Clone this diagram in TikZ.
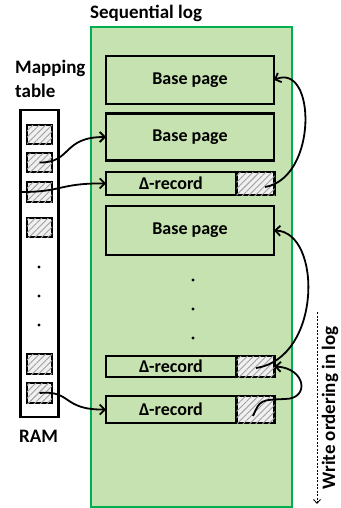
\documentclass[tikz,border=0pt]{standalone}
\usepackage{fontspec}
\setmainfont{Carlito}
\usetikzlibrary{patterns.meta,arrows.meta}
\definecolor{logfill}{RGB}{198,226,176}
\definecolor{logedge}{RGB}{0,176,80}
\definecolor{hatchgray}{RGB}{160,160,160}
\definecolor{hatchbg}{RGB}{240,240,240}
\begin{document}
\begin{tikzpicture}[x=1pt,y=-1pt,
  lbl/.style={font=\fontsize{19}{22}\selectfont\bfseries, inner sep=0pt},
  logbox/.style={draw, line width=2.5pt, inner sep=0pt, outer sep=0pt,
    font=\fontsize{18}{22}\selectfont\bfseries},
  hatchbox/.style={draw, line width=2.5pt, inner sep=0pt, outer sep=0pt, fill=hatchbg,
    postaction={pattern={Lines[angle=45,distance=4.5pt,line width=0.9pt]}, pattern color=hatchgray}},
  link/.style={line width=1.8pt, -{Straight Barb[length=5pt,width=10pt,line width=1.8pt]}},
  dotmark/.style={circle, fill=black, inner sep=0pt, minimum size=3.2pt}
]
\useasboundingbox (0,0) rectangle (340,508);

% sequential log area
\node (log) [draw=logedge, fill=logfill, line width=2pt, minimum width=201pt, minimum height=479pt, inner sep=0pt] at (191,267) {};
\node (logtitle) [lbl, anchor=west] at (90,13) {Sequential log};

% pages and delta records in the log
\node (bp1) [logbox, minimum width=168pt, minimum height=48pt] at (190,80) {Base page};
\node (bp2) [logbox, minimum width=168pt, minimum height=47pt] at (190,137) {Base page};
\node (dr1) [logbox, minimum width=130pt, minimum height=23pt] at (171,183.5) {Δ-record};
\node (h1)  [hatchbox, minimum width=38pt, minimum height=23pt] at (255.5,183.5) {};
\node (bp3) [logbox, minimum width=168pt, minimum height=49pt] at (190,230.5) {Base page};
\node (dr2) [logbox, minimum width=130pt, minimum height=21pt] at (171,366.5) {Δ-record};
\node (h2)  [hatchbox, minimum width=38pt, minimum height=21pt] at (255.5,366.5) {};
\node (dr3) [logbox, minimum width=130pt, minimum height=27pt] at (171,409.5) {Δ-record};
\node (h3)  [hatchbox, minimum width=38pt, minimum height=27pt] at (255.5,409.5) {};

\node (ld1) [dotmark] at (193,280) {};
\node (ld2) [dotmark] at (193,309) {};
\node (ld3) [dotmark] at (193,338) {};

% mapping table in RAM
\node (maplbl1) [lbl, anchor=west] at (15,68) {Mapping};
\node (maplbl2) [lbl, anchor=west] at (15,91) {table};
\node (ram) [draw, line width=2.5pt, minimum width=38pt, minimum height=307pt, inner sep=0pt] at (39.5,263.5) {};
\node (ramlbl) [lbl] at (38.5,436) {RAM};

\node (c1) [hatchbox, minimum width=25pt, minimum height=19pt] at (39.5,134.5) {};
\node (c2) [hatchbox, minimum width=25pt, minimum height=19pt] at (39.5,162.5) {};
\node (c3) [hatchbox, minimum width=25pt, minimum height=20pt] at (39.5,192) {};
\node (c4) [hatchbox, minimum width=25pt, minimum height=19pt] at (39.5,227.5) {};
\node (c5) [hatchbox, minimum width=25pt, minimum height=20pt] at (39.5,364) {};
\node (c6) [hatchbox, minimum width=25pt, minimum height=20pt] at (39.5,393) {};

\node (rd1) [dotmark] at (39,267) {};
\node (rd2) [dotmark] at (39,296) {};
\node (rd3) [dotmark] at (39,325) {};

% pointers from the mapping table into the log
\coordinate (p3) at (22,192);
\draw[link] (c2.center) .. controls (72,163) and (62,137) .. (bp2.west);
\draw[link] (p3) .. controls (62,192) and (60,183) .. (dr1.west);
\draw[link] (c6.center) .. controls (72,390) and (62,410) .. (dr3.west);

% delta chains back to earlier entries
\coordinate (q1) at (265,187);
\coordinate (q2) at (256,368);
\coordinate (q3) at (253,416);
\draw[link] (q1) .. controls (318,178) and (316,62) .. (bp1.east);
\draw[link] (q2) .. controls (322,358) and (322,232) .. (bp3.east);
\draw[link] (q3) .. controls (260,400) .. (285,399) .. controls (310,399) and (306,368) .. (h2.east);

% write ordering
\coordinate (wo1) at (317,312);
\coordinate (wo2) at (317,504);
\draw[line width=0.8pt, dash pattern=on 2pt off 1.5pt, -{Straight Barb[length=4pt,width=7pt,line width=0.8pt]}] (wo1) -- (wo2);
\node (wolbl) [lbl, rotate=90, anchor=base, font=\fontsize{19}{22}\selectfont\bfseries] at (335,408) {Write ordering in log};
\end{tikzpicture}
\end{document}
